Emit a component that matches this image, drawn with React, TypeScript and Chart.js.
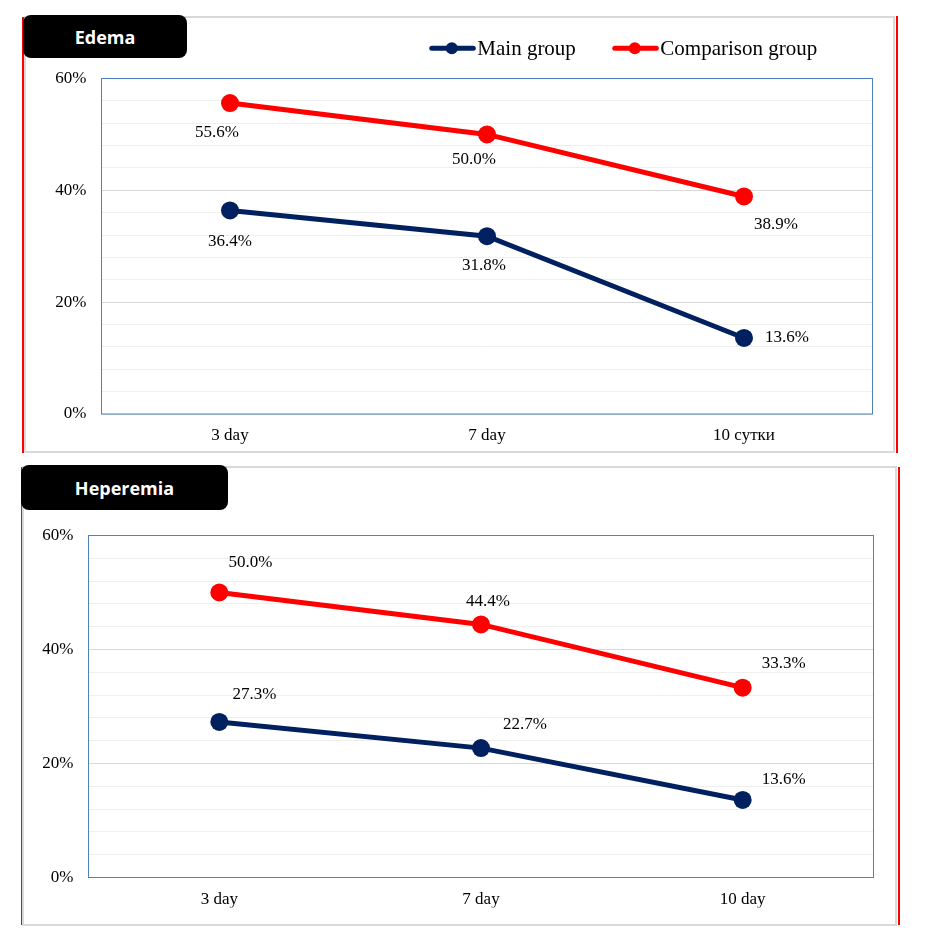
import React, { useEffect, useRef } from 'react';
import { Chart, registerables } from 'chart.js';

Chart.register(...registerables);

// ---------- data ----------
const seriesNames = ['Main group', 'Comparison group'];
const edemaCategories = ['3 day', '7 day', '10 сутки'];
const edemaMain = [36.4, 31.8, 13.6];
const edemaComparison = [55.6, 50.0, 38.9];
const hyperCategories = ['3 day', '7 day', '10 day'];
const hyperMain = [27.3, 22.7, 13.6];
const hyperComparison = [50.0, 44.4, 33.3];
const yMin = 0;
const yMax = 60;
const yMinorStep = 4;
const yLabelStep = 20;

// ---------- styles ----------
const MAIN_COLOR = '#002060';
const COMP_COLOR = '#FF0000';
const SERIF = '"Liberation Serif", "Times New Roman", serif';

type Offset = [number, number];

interface PanelCfg {
  title: string;
  categories: string[];
  main: number[];
  comp: number[];
  canvas: { left: number; top: number; width: number; height: number };
  padding: { left: number; right: number; top: number; bottom: number };
  yWidth: number;
  xHeight: number;
  xPad: number;
  labelOffsets: Offset[][]; // [series][point]
  legend: boolean;
}

const panels: PanelCfg[] = [
  {
    title: 'Edema',
    categories: edemaCategories,
    main: edemaMain,
    comp: edemaComparison,
    canvas: { left: 22, top: 15, width: 878, height: 440 },
    padding: { left: 0, right: 27.5, top: 63.5, bottom: 11 },
    yWidth: 79.5,
    xHeight: 30,
    xPad: 11,
    labelOffsets: [
      [[0, 31], [-3, 29], [43, 0]],
      [[-13, 29], [-13, 25], [32, 28]],
    ],
    legend: true,
  },
  {
    title: 'Heperemia',
    categories: hyperCategories,
    main: hyperMain,
    comp: hyperComparison,
    canvas: { left: 20, top: 465, width: 880, height: 462 },
    padding: { left: 0, right: 26.5, top: 70.5, bottom: 19.5 },
    yWidth: 68.5,
    xHeight: 30,
    xPad: 12,
    labelOffsets: [
      [[35, -27], [44, -24], [41, -20]],
      [[31, -30], [7, -23], [41, -24]],
    ],
    legend: false,
  },
];

function ChartPanel({ cfg }: { cfg: PanelCfg }) {
  const ref = useRef<HTMLCanvasElement | null>(null);

  useEffect(() => {
    if (!ref.current) return;

    const framePlugin = {
      id: 'plotFrame',
      beforeDatasetsDraw(chart: any) {
        const { ctx, chartArea } = chart;
        const { left, top, right, bottom } = chartArea;
        ctx.save();
        ctx.strokeStyle = '#4F81BD';
        ctx.lineWidth = 1;
        ctx.strokeRect(left, top, right - left, bottom - top);
        ctx.restore();
      },
    };

    const labelPlugin = {
      id: 'pointLabels',
      afterDatasetsDraw(chart: any) {
        const ctx = chart.ctx;
        ctx.save();
        ctx.font = `17px ${SERIF}`;
        ctx.fillStyle = '#000';
        ctx.textAlign = 'center';
        ctx.textBaseline = 'middle';
        chart.data.datasets.forEach((ds: any, di: number) => {
          const meta = chart.getDatasetMeta(di);
          meta.data.forEach((pt: any, i: number) => {
            const off = cfg.labelOffsets[di][i];
            const v = ds.data[i] as number;
            ctx.fillText(v.toFixed(1) + '%', pt.x + off[0], pt.y + off[1]);
          });
        });
        ctx.restore();
      },
    };

    const legendPlugin = {
      id: 'customLegend',
      afterDraw(chart: any) {
        if (!cfg.legend) return;
        const ctx = chart.ctx;
        const y = 33.3;
        const starts = [407.3, 590.3];
        ctx.save();
        ctx.font = `21px ${SERIF}`;
        chart.data.datasets.forEach((ds: any, i: number) => {
          const x = starts[i];
          ctx.strokeStyle = ds.borderColor;
          ctx.lineWidth = 5;
          ctx.lineCap = 'round';
          ctx.beginPath();
          ctx.moveTo(x + 2.5, y);
          ctx.lineTo(x + 44, y);
          ctx.stroke();
          ctx.fillStyle = ds.borderColor;
          ctx.beginPath();
          ctx.arc(x + 22.5, y, 6, 0, Math.PI * 2);
          ctx.fill();
          ctx.fillStyle = '#000';
          ctx.textAlign = 'left';
          ctx.textBaseline = 'alphabetic';
          ctx.fillText(ds.label, x + 48, 40);
        });
        ctx.restore();
      },
    };

    const chart = new Chart(ref.current, {
      type: 'line',
      data: {
        labels: cfg.categories,
        datasets: [
          {
            label: seriesNames[0],
            data: cfg.main,
            borderColor: MAIN_COLOR,
            backgroundColor: MAIN_COLOR,
            borderWidth: 5,
            pointRadius: 9,
            pointHoverRadius: 9,
            pointBorderWidth: 0,
            pointBackgroundColor: MAIN_COLOR,
            tension: 0,
          },
          {
            label: seriesNames[1],
            data: cfg.comp,
            borderColor: COMP_COLOR,
            backgroundColor: COMP_COLOR,
            borderWidth: 5,
            pointRadius: 9,
            pointHoverRadius: 9,
            pointBorderWidth: 0,
            pointBackgroundColor: COMP_COLOR,
            tension: 0,
          },
        ],
      },
      options: {
        responsive: false,
        animation: false,
        devicePixelRatio: 1,
        layout: { padding: cfg.padding },
        plugins: {
          legend: { display: false },
          tooltip: { enabled: false },
          title: { display: false },
        },
        scales: {
          x: {
            offset: true,
            grid: { display: false, drawTicks: false },
            border: { display: false },
            ticks: {
              color: '#000',
              font: { family: SERIF, size: 17 },
              padding: cfg.xPad,
              maxRotation: 0,
            },
            afterFit: (s: any) => {
              s.height = cfg.xHeight;
            },
          },
          y: {
            min: yMin,
            max: yMax,
            border: { display: false },
            grid: {
              drawTicks: false,
              lineWidth: 1,
              color: (c: any) =>
                c.tick && c.tick.value % yLabelStep === 0 ? '#d9d9d9' : '#efefef',
            },
            ticks: {
              stepSize: yMinorStep,
              maxTicksLimit: 100,
              autoSkip: false,
              padding: 15,
              color: '#000',
              font: { family: SERIF, size: 17 },
              callback: (v: any) => (Number(v) % yLabelStep === 0 ? `${v}%` : ''),
            },
            afterFit: (s: any) => {
              s.width = cfg.yWidth;
            },
          },
        },
      } as any,
      plugins: [framePlugin, labelPlugin, legendPlugin],
    });

    return () => chart.destroy();
  }, [cfg]);

  return (
    <canvas
      ref={ref}
      width={cfg.canvas.width}
      height={cfg.canvas.height}
      style={{
        position: 'absolute',
        left: cfg.canvas.left,
        top: cfg.canvas.top,
        width: cfg.canvas.width,
        height: cfg.canvas.height,
        zIndex: 2,
      }}
    />
  );
}

const abs = (l: number, t: number, w: number, h: number, extra: React.CSSProperties = {}): React.CSSProperties => ({
  position: 'absolute',
  left: l,
  top: t,
  width: w,
  height: h,
  boxSizing: 'border-box',
  ...extra,
});

const titleStyle = (l: number, t: number, w: number, h: number): React.CSSProperties =>
  abs(l, t, w, h, {
    background: '#000',
    borderRadius: 8,
    color: '#fff',
    fontFamily: '"Open Sans", "Noto Sans", sans-serif',
    fontWeight: 700,
    fontSize: 18,
    display: 'flex',
    alignItems: 'center',
    justifyContent: 'center',
    zIndex: 3,
  });

export default function App() {
  return (
    <div style={{ position: 'absolute', left: 0, top: 0, width: 927, height: 934, background: '#fff' }}>
      {/* top panel frame */}
      <div style={abs(24, 16, 871, 437, { border: '2px solid #d9d9d9', zIndex: 1 })} />
      <div style={abs(22, 17, 2, 436, { background: '#ff0000', zIndex: 1 })} />
      <div style={abs(896, 16, 1.5, 437, { background: '#ff0000', zIndex: 1 })} />
      {/* bottom panel frame */}
      <div style={abs(22, 466, 875, 460, { border: '2px solid #d9d9d9', zIndex: 1 })} />
      <div style={abs(20.5, 467, 1.8, 458, { background: '#ff0000', zIndex: 1 })} />
      <div style={abs(898, 467, 1.5, 458, { background: '#ff0000', zIndex: 1 })} />

      {panels.map((p) => (
        <ChartPanel key={p.title} cfg={p} />
      ))}

      <div style={titleStyle(23, 15, 164, 43)}>{panels[0].title}</div>
      <div style={titleStyle(21, 465, 207, 45)}>{panels[1].title}</div>
    </div>
  );
}
